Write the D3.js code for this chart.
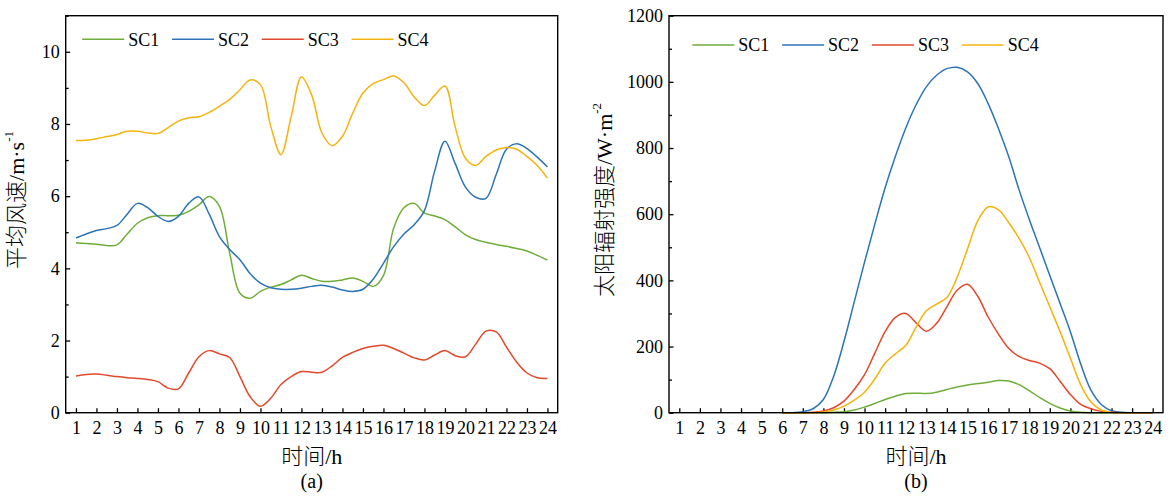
<!DOCTYPE html>
<html>
<head>
<meta charset="utf-8">
<script src="https://cdn.jsdelivr.net/npm/d3@7"></script>
<style>
    body { margin: 0; background: #fff; }
    svg text { font-family: "Liberation Serif", "Noto Sans CJK SC", serif; fill: #000; }
</style>
</head>
<body>
<div id="chart"></div>
<script>
const seriesNames = ['SC1', 'SC2', 'SC3', 'SC4'];
const seriesColors = ['#6fad3a', '#2c74b7', '#e2482b', '#f5b30f'];
const hourTicks = [1, 2, 3, 4, 5, 6, 7, 8, 9, 10, 11, 12, 13, 14, 15, 16, 17, 18, 19, 20, 21, 22, 23, 24];

// (a) mean wind speed, read every half hour
const hoursWind = [1, 1.5, 2, 2.5, 3, 3.5, 4, 4.5, 5, 5.5, 6, 6.5, 7, 7.5, 8, 8.5, 9, 9.5, 10, 10.5, 11, 11.5, 12, 12.5,
    13, 13.5, 14, 14.5, 15, 15.5, 16, 16.5, 17, 17.5, 18, 18.5, 19, 19.5, 20, 20.5, 21, 21.5, 22, 22.5, 23, 23.5, 24];
const windSC1 = [4.71, 4.69, 4.67, 4.63, 4.65, 4.95, 5.25, 5.40, 5.46, 5.46, 5.47, 5.58, 5.76, 5.99, 5.72, 4.42, 3.31, 3.17,
    3.36, 3.48, 3.55, 3.68, 3.81, 3.72, 3.64, 3.64, 3.68, 3.73, 3.64, 3.50, 3.80, 5.12, 5.68, 5.80, 5.53, 5.45, 5.35, 5.15,
    4.93, 4.80, 4.72, 4.66, 4.61, 4.55, 4.48, 4.36, 4.23];
const windSC2 = [4.84, 4.95, 5.05, 5.10, 5.19, 5.50, 5.80, 5.68, 5.44, 5.30, 5.44, 5.80, 5.98, 5.50, 4.88, 4.52, 4.24, 3.85,
    3.59, 3.46, 3.42, 3.42, 3.45, 3.50, 3.53, 3.48, 3.40, 3.36, 3.42, 3.70, 4.14, 4.60, 4.95, 5.21, 5.60, 6.70, 7.52, 6.90,
    6.25, 5.97, 5.94, 6.60, 7.30, 7.45, 7.32, 7.08, 6.81];
const windSC3 = [1.02, 1.06, 1.07, 1.04, 1.00, 0.97, 0.95, 0.92, 0.86, 0.68, 0.66, 1.10, 1.55, 1.72, 1.63, 1.53, 1.00, 0.44,
    0.18, 0.40, 0.78, 1.00, 1.14, 1.12, 1.12, 1.30, 1.53, 1.67, 1.78, 1.84, 1.87, 1.78, 1.65, 1.52, 1.46, 1.60, 1.72, 1.58,
    1.55, 1.90, 2.26, 2.24, 1.82, 1.40, 1.10, 0.97, 0.95];
const windSC4 = [7.54, 7.55, 7.59, 7.65, 7.71, 7.80, 7.80, 7.75, 7.74, 7.90, 8.08, 8.17, 8.20, 8.32, 8.49, 8.68, 8.95, 9.22,
    9.09, 7.94, 7.15, 8.21, 9.30, 8.80, 7.75, 7.40, 7.66, 8.30, 8.86, 9.12, 9.23, 9.33, 9.14, 8.75, 8.51, 8.80, 9.05, 7.92,
    7.05, 6.85, 7.10, 7.28, 7.35, 7.30, 7.10, 6.85, 6.50];

// (b) solar irradiance, read every half hour from 6h
const hoursSun = [6, 6.5, 7, 7.5, 8, 8.5, 9, 9.5, 10, 10.5, 11, 11.5, 12, 12.5, 13, 13.5, 14, 14.5, 15, 15.5, 16, 16.5,
    17, 17.5, 18, 18.5, 19, 19.5, 20, 20.5, 21, 21.5, 22, 22.5, 23, 23.5, 24];
const sunSC1 = [0, 0, 0, 0, 0, 1, 3, 8, 17, 28, 40, 50, 58, 59, 58, 62, 70, 78, 84, 88, 92, 97, 96, 85, 67, 46, 28, 14, 5, 1,
    0, 0, 0, 0, 0, 0, 0];
const sunSC2 = [0, 0, 3, 12, 40, 110, 215, 335, 455, 570, 680, 775, 860, 930, 985, 1020, 1040, 1044, 1030, 995, 935, 860,
    775, 675, 585, 500, 415, 330, 245, 148, 68, 25, 6, 1, 0, 0, 0];
const sunSC3 = [0, 0, 0, 1, 5, 15, 35, 70, 115, 180, 245, 288, 300, 272, 246, 270, 320, 370, 388, 352, 290, 238, 195, 170,
    158, 150, 133, 95, 55, 25, 12, 4, 1, 0, 0, 0, 0];
const sunSC4 = [0, 0, 0, 0, 2, 8, 20, 38, 62, 102, 150, 178, 203, 258, 308, 328, 348, 410, 495, 580, 622, 614, 575, 528,
    470, 395, 320, 245, 165, 85, 32, 8, 1, 0, 0, 0, 0];

const windTicks = [0, 2, 4, 6, 8, 10];
const windMinor = [1, 3, 5, 7, 9, 11];
const sunTicks = [0, 200, 400, 600, 800, 1000, 1200];
const sunMinor = [100, 300, 500, 700, 900, 1100];

const svg = d3.select('#chart').append('svg')
    .attr('width', 1169)
    .attr('height', 497);

function drawPanel(p) {
    const x = d3.scaleLinear().domain([0.5, 24.5]).range([p.left, p.right]);
    const y = d3.scaleLinear().domain(p.yDomain).range([p.bottom, p.top]);
    const g = svg.append('g');

    // minor ticks
    g.append('g')
        .attr('transform', `translate(${p.left},0)`)
        .call(d3.axisLeft(y).tickValues(p.minor).tickFormat('').tickSizeInner(-3).tickSizeOuter(0))
        .call(a => a.select('.domain').remove());

    const yAxis = g.append('g')
        .attr('transform', `translate(${p.left},0)`)
        .call(d3.axisLeft(y).tickValues(p.ticks).tickFormat(d3.format('d'))
            .tickSizeInner(-4.5).tickSizeOuter(0).tickPadding(6));
    yAxis.select('.domain').remove();

    const xAxis = g.append('g')
        .attr('transform', `translate(0,${p.bottom})`)
        .call(d3.axisBottom(x).tickValues(hourTicks).tickSizeInner(-4.5).tickSizeOuter(0).tickPadding(8.5));
    xAxis.select('.domain').remove();

    [yAxis, xAxis].forEach(a => {
        a.attr('font-family', null).attr('font-size', null);
        a.selectAll('text').style('font-size', '18px');
    });
    g.selectAll('.tick line').attr('stroke', '#000').attr('stroke-width', 1.3);

    const line = d3.line()
        .x((d, i) => x(p.hours[i]))
        .y(d => y(d))
        .curve(d3.curveCatmullRom.alpha(0.5));

    p.series.forEach((s, i) => {
        g.append('path')
            .datum(s)
            .attr('fill', 'none')
            .attr('stroke', seriesColors[i])
            .attr('stroke-width', 1.5)
            .attr('d', line);
    });

    // frame
    g.append('rect')
        .attr('x', p.left)
        .attr('y', p.top)
        .attr('width', p.right - p.left)
        .attr('height', p.bottom - p.top)
        .attr('fill', 'none')
        .attr('stroke', '#000')
        .attr('stroke-width', 1.4);

    // legend
    seriesNames.forEach((name, i) => {
        const lx = p.legendX + i * 89.8;
        g.append('line')
            .attr('x1', lx).attr('x2', lx + 42)
            .attr('y1', p.legendY).attr('y2', p.legendY)
            .attr('stroke', seriesColors[i])
            .attr('stroke-width', 1.5);
        g.append('text')
            .attr('x', lx + 46)
            .attr('y', p.legendY + 6.3)
            .style('font-size', '18px')
            .text(name);
    });

    const cx = (p.left + p.right) / 2;
    g.append('text')
        .attr('x', cx)
        .attr('y', 464)
        .attr('text-anchor', 'middle')
        .style('font-size', '22px')
        .style('font-weight', 300)
        .text('时间/h');
    g.append('text')
        .attr('x', cx)
        .attr('y', 488)
        .attr('text-anchor', 'middle')
        .style('font-size', '20px')
        .text(p.tag);

    const yt = g.append('text')
        .attr('transform', `translate(${p.titleX},200) rotate(-90)`)
        .attr('text-anchor', 'middle')
        .attr('dominant-baseline', 'central')
        .style('font-size', '22px')
        .style('font-weight', 300);
    yt.append('tspan').text(p.title);
    yt.append('tspan').attr('dy', -8).style('font-size', '13px').text(p.sup);
}

drawPanel({
    left: 65.7, right: 557.7, top: 15.7, bottom: 412.7,
    yDomain: [0, 11], ticks: windTicks, minor: windMinor,
    hours: hoursWind, series: [windSC1, windSC2, windSC3, windSC4],
    legendX: 82.2, legendY: 39.3,
    tag: '(a)', titleX: 16, title: '平均风速/m·s', sup: '-1'
});

drawPanel({
    left: 669, right: 1163, top: 15.7, bottom: 412.7,
    yDomain: [0, 1200], ticks: sunTicks, minor: sunMinor,
    hours: hoursSun, series: [sunSC1, sunSC2, sunSC3, sunSC4],
    legendX: 692.3, legendY: 45,
    tag: '(b)', titleX: 604, title: '太阳辐射强度/W·m', sup: '-2'
});
</script>
</body>
</html>
